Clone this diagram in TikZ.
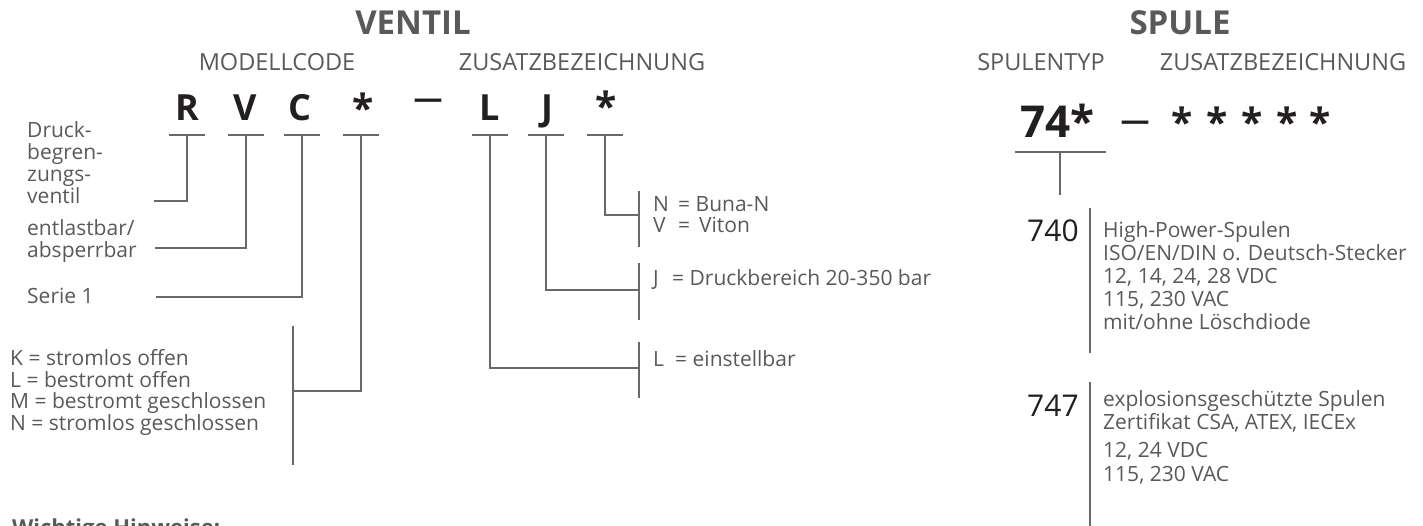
\documentclass[tikz,border=0pt]{standalone}
\usepackage{fontspec}
\setmainfont{Open Sans}
\definecolor{txt}{HTML}{58595B}
\definecolor{ink}{HTML}{231F20}
\definecolor{ln}{HTML}{67686B}
\tikzset{
 hdr/.style={font=\bfseries\fontsize{33}{36}\selectfont, text=txt, inner sep=0pt, anchor=base},
 sub/.style={font=\fontsize{23.5}{26}\selectfont, text=txt, inner sep=0pt, anchor=base},
 code/.style={font=\bfseries\fontsize{36}{38}\selectfont, text=ink, inner sep=0pt, anchor=base},
 star/.style={font=\bfseries\fontsize{39}{41}\selectfont, text=ink, inner sep=0pt, anchor=north},
 dashsym/.style={font=\bfseries\fontsize{29}{31}\selectfont, text=ink, inner sep=0pt, anchor=north},
 lbl/.style={font=\fontsize{21}{22}\selectfont, text=txt, inner sep=0pt, anchor=base west},
 bignum/.style={font=\fontsize{30}{32}\selectfont, text=ink, inner sep=0pt, anchor=base west},
 conn/.style={draw=ln, line width=2.2pt},
}
\begin{document}
\begin{tikzpicture}[x=1pt,y=-1pt]
\useasboundingbox (0,0) rectangle (1423,526);
\clip (0,0) rectangle (1423,526);
% headings
\node[hdr] (ventil) at (413,35) {VENTIL};
\node[hdr] (spule) at (1180,35) {SPULE};
\node[sub] (modell) at (277,71) {MODELLCODE};
\node[sub] (zusV) at (582,71) {ZUSATZBEZEICHNUNG};
\node[sub] (styp) at (1041,71) {SPULENTYP};
\node[sub] (zusS) at (1283,71) {ZUSATZBEZEICHNUNG};
% model code
\node[code] (cR) at (187,121) {R};
\node[code] (cV) at (245,121) {V};
\node[code] (cC) at (300,121) {C};
\node[star] (cS1) at (363,93) {*};
\node[dashsym] (cD) at (428,98.5) {—};
\node[code] (cL) at (490,121) {L};
\node[code] (cJ) at (547,121) {J};
\node[star] (cS2) at (606,91) {*};
% underbars
\foreach \n/\x in {R/187, V/246, C/302, S1/361, L/490, J/546, S2/605} {
  \coordinate (u\n) at (\x,135);
  \draw[conn] ([xshift=-18pt]u\n) -- ([xshift=18pt]u\n);
}
% connectors to the left
\coordinate (aR) at (154,201);
\coordinate (aV) at (155,248);
\coordinate (aC) at (156,297);
\coordinate (aS1) at (293,391);
\coordinate (kT) at (293,326);
\coordinate (kB) at (293,465);
\draw[conn] (uR) |- (aR);
\draw[conn] (uV) |- (aV);
\draw[conn] (uC) |- (aC);
\draw[conn] (uS1) |- (aS1);
\draw[conn] (kT) -- (kB);
% connectors to the right
\coordinate (aS2) at (639,215);
\coordinate (sT) at (639,191);
\coordinate (sB) at (639,247);
\coordinate (aJ) at (639,290);
\coordinate (jT) at (639,263);
\coordinate (jB) at (639,320);
\coordinate (aL) at (639,368);
\coordinate (lT) at (639,342);
\coordinate (lB) at (639,398);
\draw[conn] (uS2) |- (aS2);
\draw[conn] (sT) -- (sB);
\draw[conn] (uJ) |- (aJ);
\draw[conn] (jT) -- (jB);
\draw[conn] (uL) |- (aL);
\draw[conn] (lT) -- (lB);
% left labels
\node[lbl] (d1) at (27,138) {Druck-};
\node[lbl] (d2) at (27,160) {begren-};
\node[lbl] (d3) at (27,182) {zungs-};
\node[lbl] (d4) at (27,204) {ventil};
\node[lbl] (e1) at (27,236) {entlastbar/};
\node[lbl] (e2) at (27,258) {absperrbar};
\node[lbl] (s1) at (27,304) {Serie 1};
\node[lbl] (k1) at (10,365) {K = stromlos offen};
\node[lbl] (k2) at (10,387) {L = bestromt offen};
\node[lbl] (k3) at (10,408) {M = bestromt geschlossen};
\node[lbl] (k4) at (10,430) {N = stromlos geschlossen};
% right labels
\node[lbl] (n1) at (653,212) {\makebox[25pt][l]{N}= Buna-N};
\node[lbl] (n2) at (653,233) {\makebox[25pt][l]{V}= \,Viton};
\node[lbl] (j1) at (653,286) {\makebox[19pt][l]{J}= Druckbereich 20-350 bar};
\node[lbl] (l1) at (653,366) {\makebox[22pt][l]{L}= einstellbar};
% coil code
\node[code, font=\bfseries\fontsize{44}{46}\selectfont, anchor=base west] (c74) at (1020,138) {74*};
\node[dashsym] (cD2) at (1135,120.5) {—};
\foreach \i/\x in {1/1182, 2/1217, 3/1252, 4/1287, 5/1320} {
  \node[star] (st\i) at (\x,107) {*};
}
\coordinate (u74) at (1060,152);
\coordinate (t74) at (1060,195);
\draw[conn] ([xshift=-45pt]u74) -- ([xshift=46pt]u74);
\draw[conn] (u74) -- (t74);
% coil types
\node[bignum] (n740) at (1027,242) {740};
\node[bignum] (n747) at (1027,416) {747};
\coordinate (b1T) at (1090,208);
\coordinate (b1B) at (1090,353);
\coordinate (b2T) at (1090,382);
\coordinate (b2B) at (1090,530);
\draw[conn] (b1T) -- (b1B);
\draw[conn] (b2T) -- (b2B);
\node[lbl] (h1) at (1103,238) {High-Power-Spulen};
\node[lbl] (h2) at (1103,261) {ISO/EN/DIN o. Deutsch-Stecker};
\node[lbl] (h3) at (1103,284) {12, 14, 24, 28 VDC};
\node[lbl] (h4) at (1103,307) {115, 230 VAC};
\node[lbl] (h5) at (1103,330) {mit/ohne Löschdiode};
\node[lbl] (x1) at (1103,406) {explosionsgeschützte Spulen};
\node[lbl] (x2) at (1103,429) {Zertifikat CSA, ATEX, IECEx};
\node[lbl] (x3) at (1103,457) {12, 24 VDC};
\node[lbl] (x4) at (1103,481) {115, 230 VAC};
% note
\node[lbl, font=\bfseries\fontsize{22}{24}\selectfont] (hint) at (12,535) {Wichtige Hinweise:};
\end{tikzpicture}
\end{document}
